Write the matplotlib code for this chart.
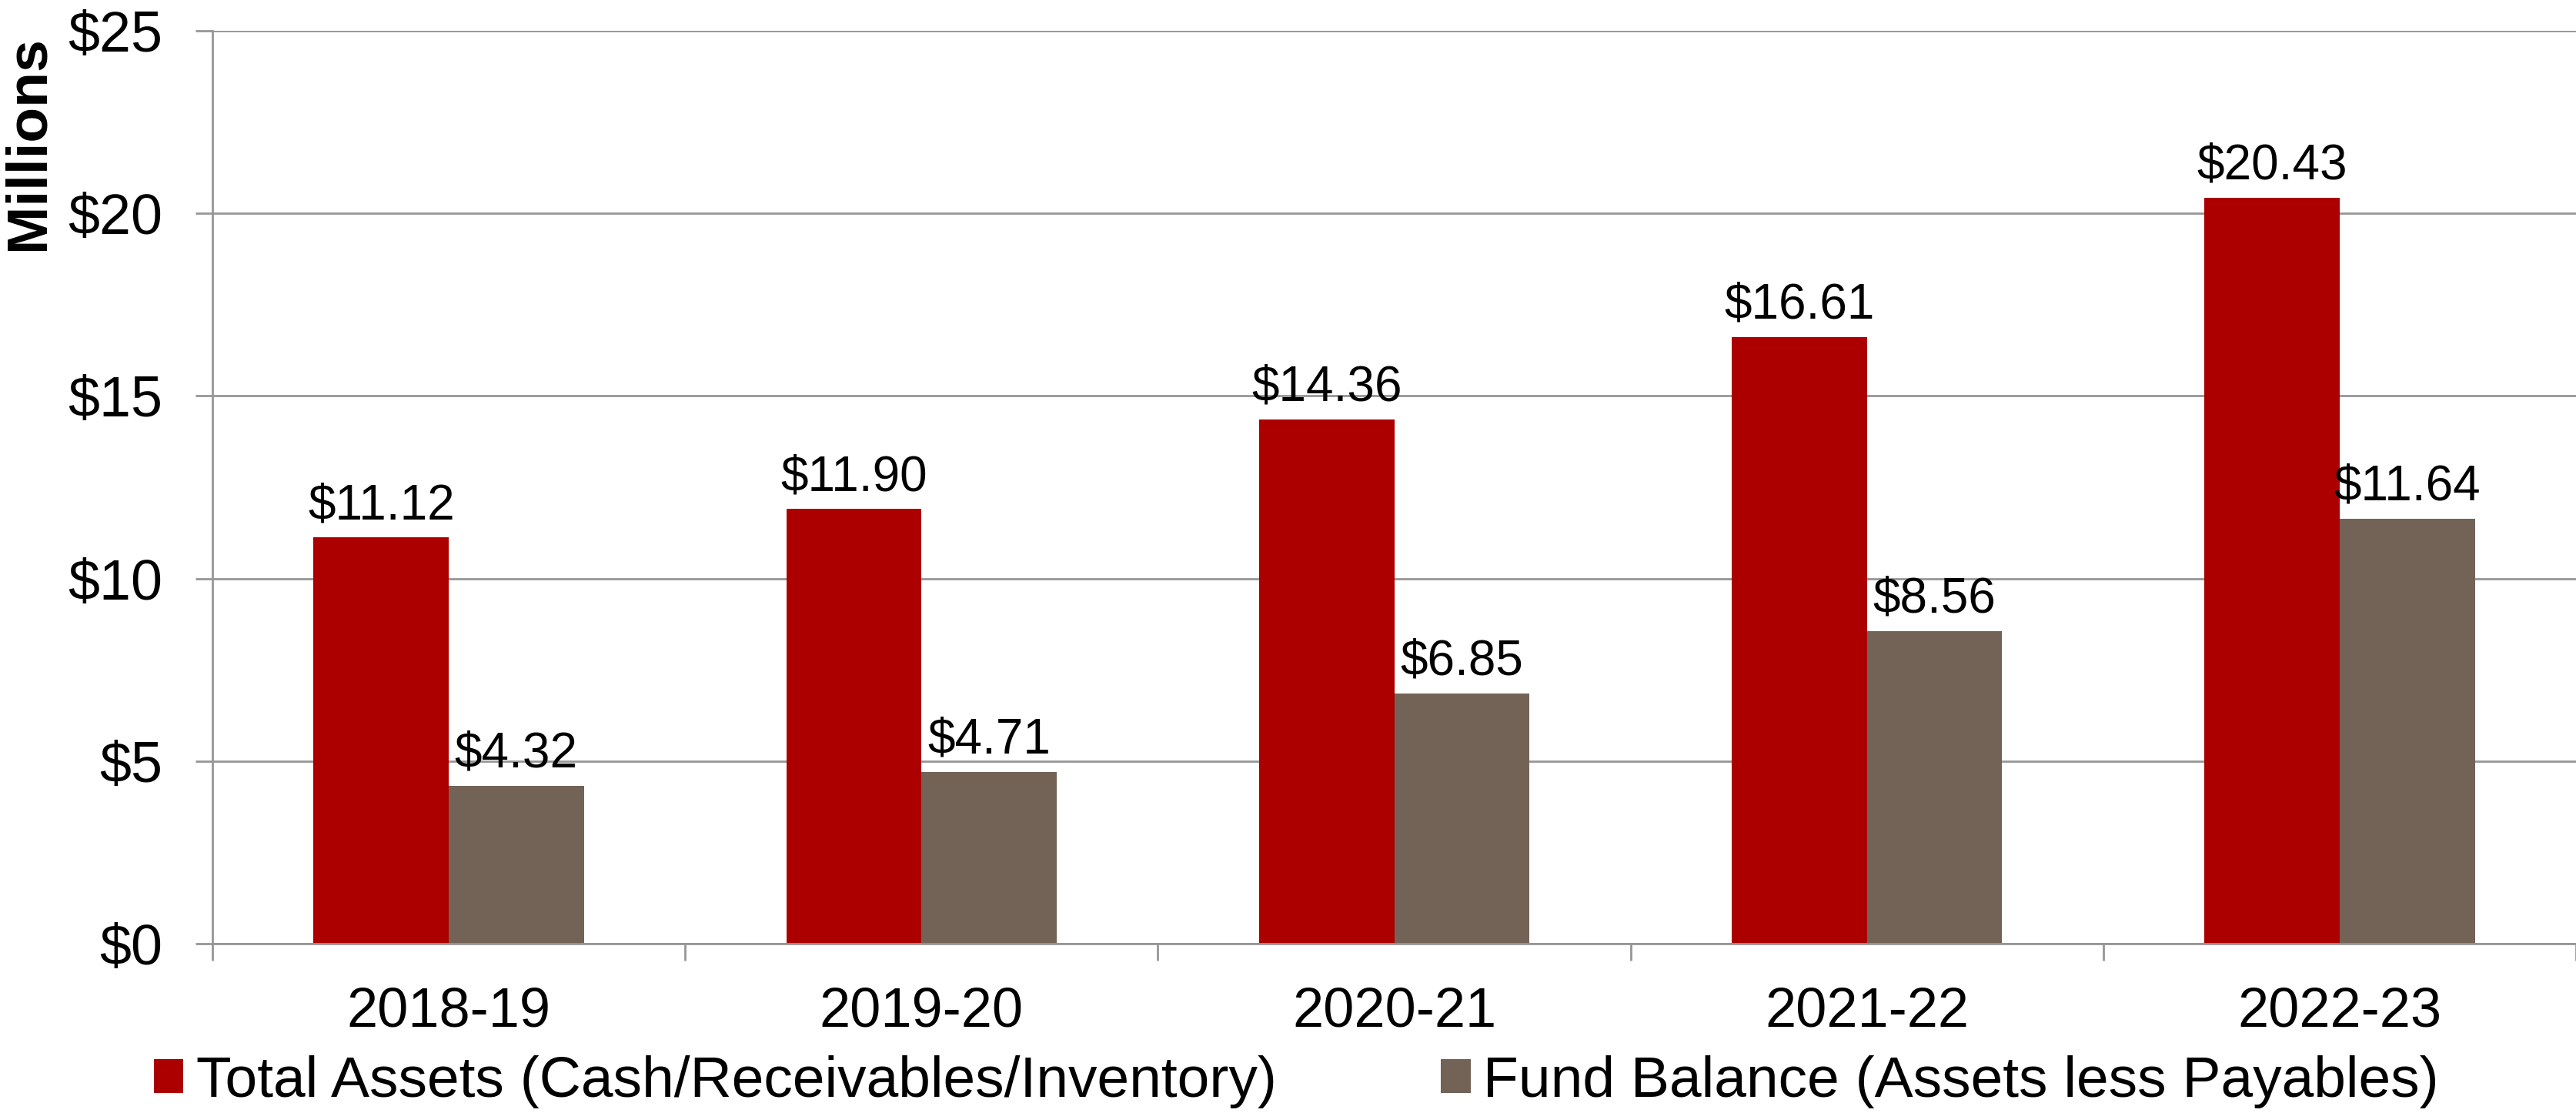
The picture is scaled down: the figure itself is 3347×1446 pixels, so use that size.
import matplotlib
matplotlib.use("Agg")
import matplotlib.pyplot as plt
import numpy as np
from matplotlib.patches import Patch

plt.rcParams['font.family'] = ['Liberation Sans', 'DejaVu Sans']

categories = ["2018-19", "2019-20", "2020-21", "2021-22", "2022-23"]
total_assets = [11.12, 11.90, 14.36, 16.61, 20.43]
fund_balance = [4.32, 4.71, 6.85, 8.56, 11.64]
series_names = ["Total Assets (Cash/Receivables/Inventory)", "Fund Balance (Assets less Payables)"]
ytick_values = [0, 5, 10, 15, 20, 25]
ytick_labels = ["$0", "$5", "$10", "$15", "$20", "$25"]

RED = "#AC0000"
TAUPE = "#736357"
GRID = "#969696"

W, H = 3347, 1446
fig = plt.figure(figsize=(W / 100, H / 100), dpi=100)
ax = fig.add_axes([276 / W, 220 / H, (W - 276) / W, (1406 - 220) / H])

x = np.arange(len(categories))
w = 0.286
b1 = ax.bar(x - w / 2, total_assets, width=w, color=RED, zorder=3)
b2 = ax.bar(x + w / 2, fund_balance, width=w, color=TAUPE, zorder=3)

ax.bar_label(b1, labels=["${:.2f}".format(v) for v in total_assets], padding=8, fontsize=46)
ax.bar_label(b2, labels=["${:.2f}".format(v) for v in fund_balance], padding=8, fontsize=46)

ax.set_xlim(-0.5, len(categories) - 0.5)
ax.set_ylim(0, 25)
ax.set_yticks(ytick_values)
ax.set_yticklabels(ytick_labels, fontsize=53)
ax.set_xticks(x)
ax.set_xticklabels(categories, fontsize=52)
ax.set_xticks(np.arange(-0.5, len(categories)), minor=True)
ax.tick_params(axis='x', which='major', length=0, pad=40)
ax.tick_params(axis='x', which='minor', length=16, width=2, color=GRID)
ax.tick_params(axis='y', which='major', length=16, width=2, color=GRID, pad=31)

ax.grid(axis='y', color=GRID, linewidth=2, zorder=0)
ax.set_axisbelow(True)
for s in ['top', 'right']:
    ax.spines[s].set_visible(False)
for s in ['left', 'bottom']:
    ax.spines[s].set_color(GRID)
    ax.spines[s].set_linewidth(2)
ax.spines['bottom'].set_zorder(4)

fig.text(37 / W, 1 - 186 / H, "Millions", rotation=90, ha='center', va='center',
         fontsize=54, fontweight='bold')

handles = [Patch(facecolor=RED), Patch(facecolor=TAUPE)]
fig.legend(handles, series_names, loc='center left', bbox_to_anchor=(200 / W, 1 - 1405 / H),
           ncol=2, frameon=False, fontsize=54, handlelength=0.51, handleheight=0.51,
           handletextpad=0.22, columnspacing=2.85, borderpad=0, borderaxespad=0)

fig.savefig("out.png", dpi=100)
